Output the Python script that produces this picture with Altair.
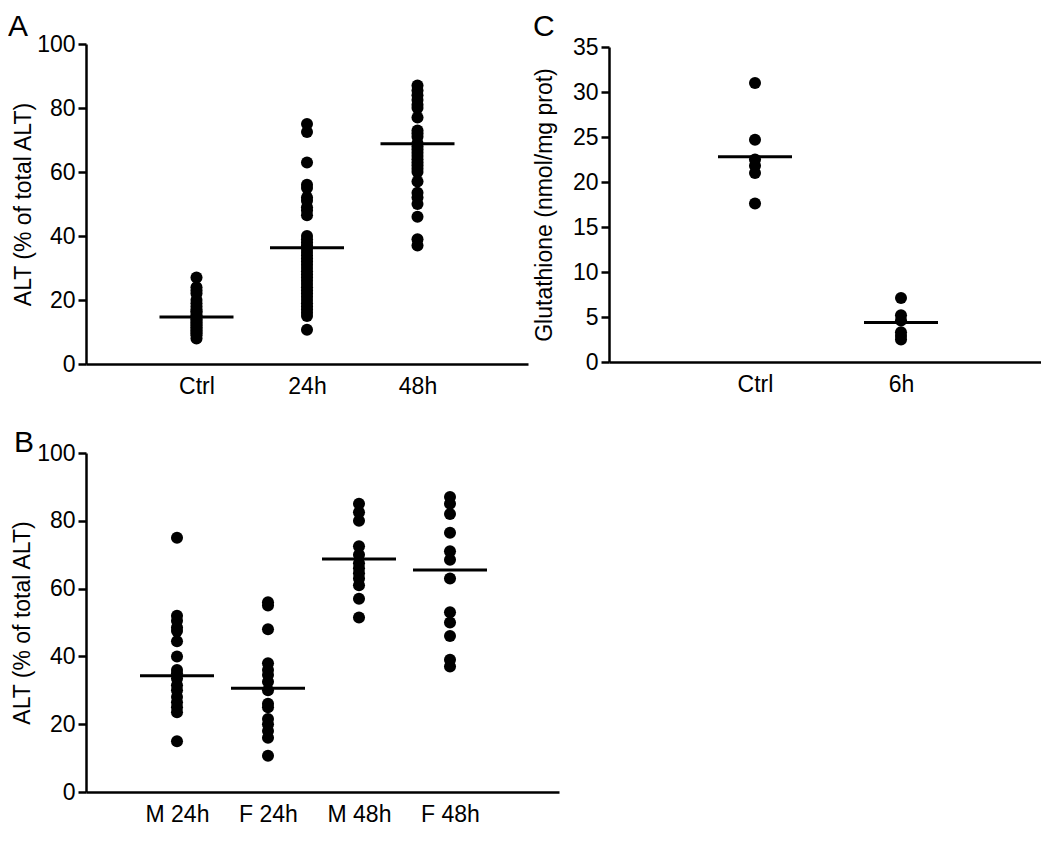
import json
import altair as alt
import pandas as pd

FONT = "Liberation Sans"

# ---------------- Panel A ----------------
a_groups = ["Ctrl", "24h", "48h"]
a_ctrl = [27, 24, 23, 22, 20, 19, 18, 17, 16.5, 16, 15, 15, 14.5, 14, 13.5,
          13, 12.5, 12, 11.5, 11, 10.5, 10, 9.5, 9, 8]
a_24h = [75, 72.5, 63, 56, 55, 52, 51, 49, 48, 46.5, 40, 39, 38, 37, 36, 35,
         34, 33, 32, 31, 30, 29, 28, 27, 26, 25, 24, 23, 22, 21, 20, 19, 18,
         17, 16, 15, 10.7]
a_48h = [87, 85.5, 84, 82.5, 81, 80, 77, 73, 72, 71, 69, 68, 67, 66, 65, 64,
         63, 62, 61, 60, 57, 53.5, 52, 50, 46, 39, 37]
a_lines = [14.7, 36.3, 68.8]
a_yticks = [0, 20, 40, 60, 80, 100]

# ---------------- Panel B ----------------
b_groups = ["M 24h", "F 24h", "M 48h", "F 48h"]
b_m24 = [75, 52, 50.5, 48.5, 47.5, 44.5, 40, 36, 35, 33.5, 31.5, 30, 28,
         26.5, 25, 23.5, 15]
b_f24 = [56, 55, 48, 38, 36, 34.5, 32.5, 30, 26, 25, 21.5, 20, 18, 16, 10.7]
b_m48 = [85, 82.5, 80, 72.5, 70, 67.5, 66, 64.5, 63, 61, 57, 51.5]
b_f48 = [87, 85, 82, 76.5, 71, 68.5, 63, 53, 50, 46, 39, 37]
b_lines = [34.3, 30.6, 68.7, 65.5]
b_yticks = [0, 20, 40, 60, 80, 100]

# ---------------- Panel C ----------------
c_groups = ["Ctrl", "6h"]
c_ctrl = [31, 24.7, 22.5, 21.8, 21, 17.6]
c_6h = [7.1, 5.2, 4.6, 3.3, 2.9, 2.5]
c_lines = [22.8, 4.4]
c_yticks = [0, 5, 10, 15, 20, 25, 30, 35]


def long_df(groups, series):
    rows = []
    for i, (g, vals) in enumerate(zip(groups, series), start=1):
        for v in vals:
            rows.append({"group": g, "pos": i, "value": v})
    return pd.DataFrame(rows)


def line_df(groups, lines):
    return pd.DataFrame({"group": groups, "pos": list(range(1, len(groups) + 1)),
                         "value": lines})


def panel(groups, series, lines, yticks, ytitle, width, height, xmax, ymax,
          tpad, letter, lx, ly, anchors, yrange=None):
    labels = [""] + groups
    x = alt.X("pos:Q",
              scale=alt.Scale(domain=[0, xmax], nice=False, zero=False),
              axis=alt.Axis(values=list(range(1, len(groups) + 1)),
                            labelExpr=json.dumps(labels) + "[datum.value]",
                            title=None, grid=False, ticks=False, tickSize=0,
                            domainColor="black", domainWidth=2.5,
                            labelFont=FONT, labelFontSize=23, labelColor="black",
                            labelPadding=11, labelOverlap=False, labelFlush=False))
    yscale = alt.Scale(domain=[0, ymax], nice=False, zero=True)
    if yrange is not None:
        yscale = alt.Scale(domain=[0, ymax], nice=False, zero=True, range=yrange)
    y = alt.Y("value:Q", scale=yscale,
              axis=alt.Axis(values=yticks, title=ytitle, grid=False,
                            tickSize=8, tickWidth=2.5, tickColor="black",
                            domainColor="black", domainWidth=2.5,
                            labelFont=FONT, labelFontSize=23, labelColor="black",
                            labelPadding=3, labelFlush=False, labelOverlap=False,
                            titleFont=FONT, titleFontSize=23,
                            titleFontWeight="normal", titleColor="black",
                            titlePadding=tpad))
    pts = alt.Chart(long_df(groups, series)).mark_circle(
        size=145, color="black", opacity=1).encode(x=x, y=y)
    ln = alt.Chart(line_df(groups, lines)).mark_tick(
        orient="horizontal", size=74, thickness=3, color="black",
        opacity=1).encode(x=x, y=y)
    let = alt.Chart(pd.DataFrame({"t": [letter]})).mark_text(
        font=FONT, fontSize=30, align="left", baseline="alphabetic",
        color="black").encode(text="t:N", x=alt.value(lx), y=alt.value(ly))
    layers = [pts, ln, let]
    for (ax, ay) in anchors:
        layers.append(
            alt.Chart(pd.DataFrame({"a": [0]})).mark_rule(
                strokeWidth=1, opacity=0).encode(
                x=alt.value(ax), x2=alt.value(ax + 1),
                y=alt.value(ay), y2=alt.value(ay)))
    return alt.layer(*layers).properties(width=width, height=height)


A = panel(a_groups, [a_ctrl, a_24h, a_48h], a_lines, a_yticks,
          "ALT (% of total ALT)", 442, 320, 4.0, 100, 1.5,
          "A", -78, -8, anchors=[(-78, -36), (-78, 376)])
C = panel(c_groups, [c_ctrl, c_6h], c_lines, c_yticks,
          "Glutathione (nmol/mg prot)", 432, 318, 432 / 146, 35, 16,
          "C", -76, -8, anchors=[], yrange=[318, 3])
B = panel(b_groups, [b_m24, b_f24, b_m48, b_f48], b_lines, b_yticks,
          "ALT (% of total ALT)", 473, 339, 473 / 91, 100, 2.5,
          "B", -72, -1, anchors=[(-72, -33)])

top = alt.hconcat(A, C, spacing=81, bounds="flush")
chart = alt.vconcat(top, B, spacing=0).configure_view(stroke=None).properties(
    padding={"left": 0, "top": 0, "right": 0, "bottom": 0},
    background="white")

chart.save("out.html", embed_options={"renderer": "svg", "actions": False})
